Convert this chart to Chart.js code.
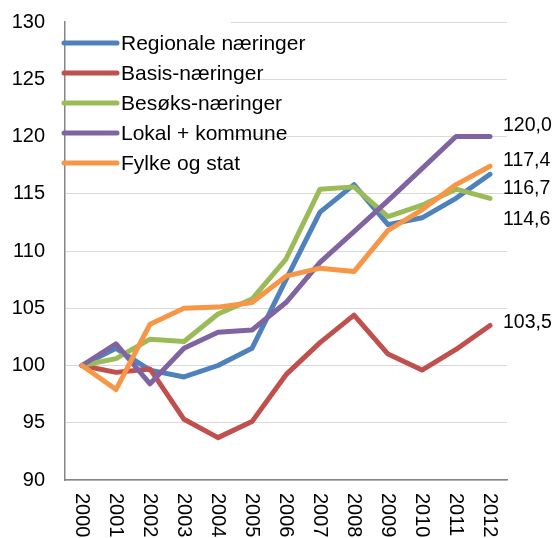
<!DOCTYPE html>
<html>
<head>
<meta charset="utf-8">
<script src="https://cdn.jsdelivr.net/npm/chart.js@4.4.1/dist/chart.umd.min.js"></script>
<style>
  html, body { margin: 0; padding: 0; background: #fff; }
  #wrap { width: 557px; height: 538px; position: relative; }
</style>
</head>
<body>
<div id="wrap"><canvas id="c" width="557" height="538"></canvas></div>
<script>
const years = ['2000','2001','2002','2003','2004','2005','2006','2007','2008','2009','2010','2011','2012'];
const seriesNames = ['Regionale næringer', 'Basis-næringer', 'Besøks-næringer', 'Lokal + kommune', 'Fylke og stat'];
const regionale = [100, 101.5, 99.6, 99.0, 100.0, 101.5, 107.5, 113.4, 115.8, 112.3, 112.9, 114.6, 116.7];
const basis     = [100, 99.4, 99.7, 95.3, 93.7, 95.1, 99.2, 102.0, 104.4, 101.0, 99.6, 101.4, 103.5];
const besoks    = [100, 100.6, 102.3, 102.1, 104.5, 105.8, 109.3, 115.4, 115.6, 113.0, 114.0, 115.4, 114.6];
const lokal     = [100, 101.9, 98.4, 101.5, 102.9, 103.1, 105.5, 109.0, 111.7, 114.4, 117.2, 120.0, 120.0];
const fylke     = [100, 97.9, 103.6, 105.0, 105.1, 105.5, 107.8, 108.5, 108.2, 111.8, 113.6, 115.8, 117.4];
const endLabels = ['116,7', '103,5', '114,6', '120,0', '117,4'];
const yTicks = [90, 95, 100, 105, 110, 115, 120, 125, 130];

const colors = ['#4F81BD', '#C0504D', '#9BBB59', '#8064A2', '#F79646'];
const allData = [regionale, basis, besoks, lokal, fylke];
const FONT = '"Liberation Sans", Arial, sans-serif';
// pixel nudges for end labels (to avoid overlap, as in the original)
const endLabelNudge = [14, -3, 21, -11, -6];

const customPlugin = {
  id: 'custom',
  afterDraw(chart) {
    const ctx = chart.ctx;
    const ca = chart.chartArea;
    const xs = chart.scales.x;
    const ys = chart.scales.y;
    ctx.save();
    // x tick labels, rotated clockwise
    ctx.fillStyle = '#000';
    ctx.font = '20px ' + FONT;
    ctx.textAlign = 'left';
    ctx.textBaseline = 'middle';
    years.forEach((yr, i) => {
      const px = xs.getPixelForValue(i);
      ctx.save();
      ctx.translate(px, ca.bottom + 13);
      ctx.rotate(Math.PI / 2);
      ctx.fillText(yr, 0, 0);
      ctx.restore();
    });
    // end labels
    ctx.font = '19.5px ' + FONT;
    chart.data.datasets.forEach((ds, i) => {
      const last = ds.data[ds.data.length - 1];
      const py = ys.getPixelForValue(last) + endLabelNudge[i];
      ctx.fillText(endLabels[i], ca.right - 4, py);
    });
    // legend
    const lx0 = ca.left + 1;
    ctx.fillStyle = '#fff';
    ctx.fillRect(lx0, ca.top - 1, 165, 156);
    ctx.font = '21px ' + FONT;
    chart.data.datasets.forEach((ds, i) => {
      const cy = ca.top + 21 + i * 30;
      ctx.strokeStyle = ds.borderColor;
      ctx.lineWidth = 5;
      ctx.lineCap = 'round';
      ctx.beginPath();
      ctx.moveTo(ca.left - 1, cy);
      ctx.lineTo(ca.left + 52, cy);
      ctx.stroke();
      ctx.fillStyle = '#000';
      ctx.fillText(ds.label, ca.left + 56, cy + 1);
    });
    ctx.restore();
  }
};

new Chart(document.getElementById('c'), {
  type: 'line',
  data: {
    labels: years,
    datasets: seriesNames.map((name, i) => ({
      label: name,
      data: allData[i],
      borderColor: colors[i],
      backgroundColor: colors[i],
      borderWidth: 5,
      pointRadius: 0,
      tension: 0,
      borderCapStyle: 'round',
      borderJoinStyle: 'round',
      order: 5 - i
    }))
  },
  options: {
    responsive: false,
    animation: false,
    layout: { padding: { left: 0, right: 50, top: 22, bottom: 0 } },
    plugins: { legend: { display: false }, tooltip: { enabled: false } },
    scales: {
      x: {
        offset: true,
        grid: { display: false, drawTicks: false },
        border: { display: true, color: '#868686', width: 1.5 },
        ticks: { display: false },
        afterFit(scale) { scale.height = 58; scale.paddingLeft = 0; scale.paddingRight = 0; }
      },
      y: {
        min: 90,
        max: 130,
        afterBuildTicks(scale) { scale.ticks = yTicks.map(v => ({ value: v })); },
        grid: { color: '#d9d9d9', lineWidth: 1, drawTicks: false },
        border: { display: true, color: '#868686', width: 1.5 },
        ticks: {
          color: '#000',
          font: { family: FONT, size: 20 },
          padding: 20
        },
        afterFit(scale) { scale.width = 65; scale.paddingTop = 0; scale.paddingBottom = 0; }
      }
    }
  },
  plugins: [customPlugin]
});
</script>
</body>
</html>
